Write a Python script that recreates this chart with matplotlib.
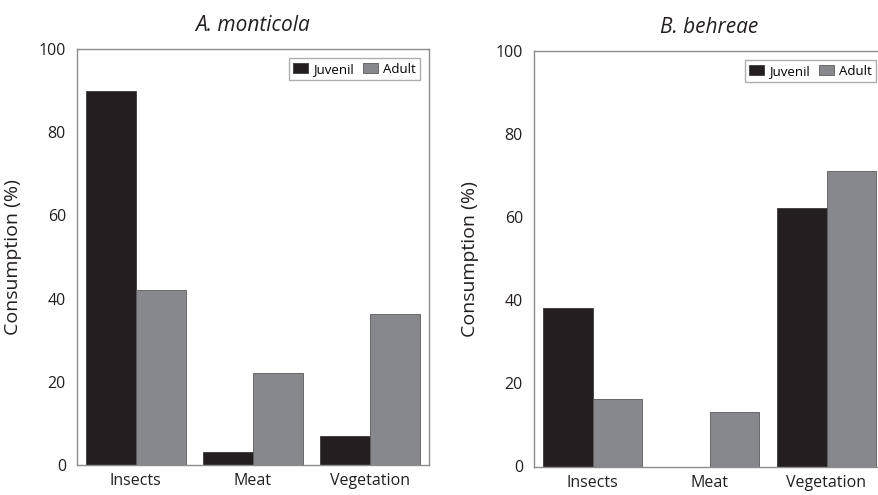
import matplotlib
matplotlib.use("Agg")
import matplotlib.pyplot as plt
import numpy as np

plt.rcParams['font.family'] = ['Open Sans', 'DejaVu Sans']

categories = ["Insects", "Meat", "Vegetation"]
yticks = [0, 20, 40, 60, 80, 100]

# A. monticola
mont_juvenil = [90.0, 3.1, 7.0]
mont_adult = [42.0, 22.0, 36.2]

# B. behreae
behr_juvenil = [38.1, 0.0, 62.1]
behr_adult = [16.2, 13.1, 71.0]

JUV_COLOR = "#231f20"
ADULT_COLOR = "#87888b"
SPINE_COLOR = "#8c8c8c"

W, H = 879, 495
fig = plt.figure(figsize=(W / 100, H / 100), dpi=100)


def draw_panel(ax, juvenil, adult, title, xmax, anchor_x):
    x = np.arange(len(categories))
    width = 0.427
    ax.bar(x - width / 2, juvenil, width, color=JUV_COLOR, edgecolor="#3a3a3a",
           linewidth=0.6, label="Juvenil")
    ax.bar(x + width / 2, adult, width, color=ADULT_COLOR, edgecolor="#5a5a5a",
           linewidth=0.6, label="Adult")
    ax.set_xlim(-0.5, xmax)
    ax.set_ylim(0, 100)
    ax.set_yticks(yticks)
    ax.set_xticks(x)
    ax.set_xticklabels(categories)
    ax.tick_params(length=0, labelsize=11.5, colors="#231f20")
    ax.tick_params(axis="x", pad=6)
    ax.tick_params(axis="y", pad=8)
    for s in ax.spines.values():
        s.set_color(SPINE_COLOR)
        s.set_linewidth(1.0)
    ax.set_ylabel("Consumption (%)", fontsize=14, color="#231f20", labelpad=12)
    ax.set_title(title, fontsize=15, style="italic", color="#231f20", pad=13)
    leg = ax.legend(loc="upper right", ncol=2, fontsize=9.5, frameon=True,
                    fancybox=False, handlelength=1.1, handleheight=0.8,
                    handletextpad=0.4, columnspacing=0.7, borderpad=0.35,
                    borderaxespad=0.0, bbox_to_anchor=(anchor_x, 0.978))
    leg.get_frame().set_edgecolor("#9a9a9a")
    leg.get_frame().set_linewidth(1.0)


ax1 = fig.add_axes([77 / W, (H - 465) / H, 352 / W, 416 / H])
draw_panel(ax1, mont_juvenil, mont_adult, "A. monticola", 2.5, 0.975)

ax2 = fig.add_axes([534 / W, (H - 466.5) / H, 351 / W, 415.5 / H])
draw_panel(ax2, behr_juvenil, behr_adult, "B. behreae", 2.5, 0.975)

fig.savefig("out.png", dpi=100)
